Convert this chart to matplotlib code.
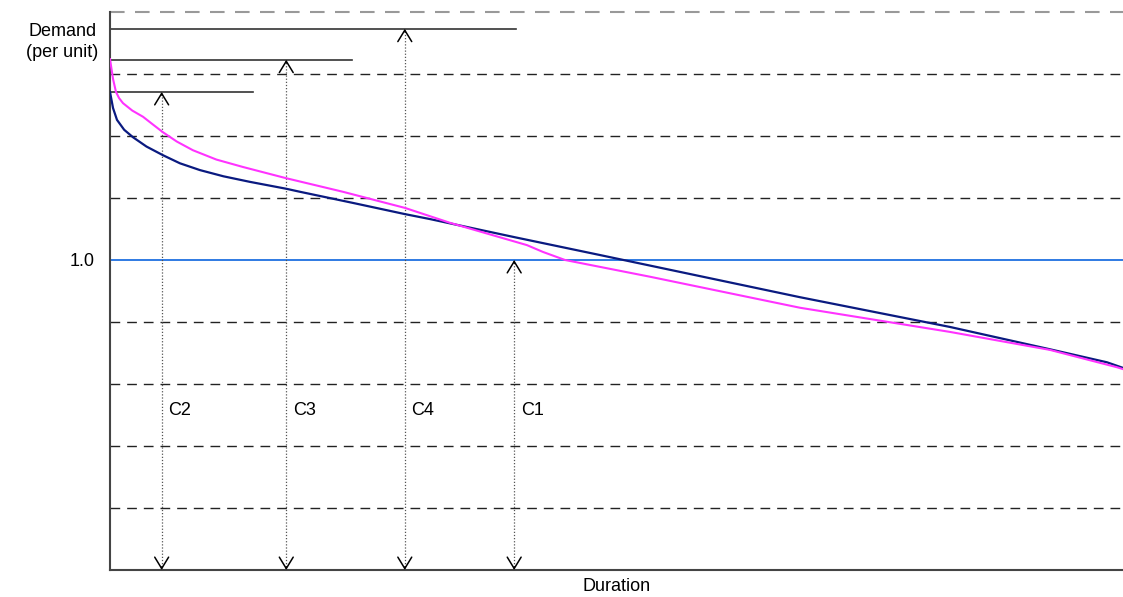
#!/usr/bin/env python3
"""
Load duration curves vs capacity levels C1..C4 (per unit demand).
"""
import matplotlib
matplotlib.use('Agg')
import matplotlib.pyplot as plt

plt.rcParams['font.family'] = ['Liberation Sans', 'DejaVu Sans']

# duration in % of period, demand in per unit
navy_dur = [0, 0.3, 0.69, 1.4, 2.27, 3.6, 5.23, 6.9, 8.88, 11.2, 13.82, 17.37, 18.76,
            24.0, 29.12, 31.59, 39.88, 48.37, 58.24, 68.11, 82.92, 92.79, 98.42, 100]
navy_dem = [1.271, 1.245, 1.226, 1.210, 1.198, 1.183, 1.169, 1.156, 1.145, 1.135, 1.126,
            1.115, 1.110, 1.092, 1.074, 1.066, 1.037, 1.008, 0.974, 0.940, 0.892, 0.856,
            0.835, 0.826]

magenta_dur = [0, 0.3, 0.59, 0.9, 1.28, 2.2, 3.26, 4.2, 5.23, 6.6, 8.19, 10.5, 13.13,
               17.37, 23.0, 29.12, 33.56, 41.16, 42.74, 44.92, 53.31, 68.11, 82.92, 92.79,
               99.41, 100]
magenta_dem = [1.324, 1.292, 1.271, 1.261, 1.253, 1.241, 1.231, 1.219, 1.206, 1.191, 1.177,
               1.162, 1.150, 1.132, 1.110, 1.084, 1.060, 1.024, 1.013, 1.000, 0.973, 0.923,
               0.884, 0.855, 0.827, 0.824]

cap_labels = ['C2', 'C3', 'C4', 'C1']
cap_levels = [1.271, 1.323, 1.373, 1.0]
cap_line_end = [14.1, 23.9, 40.1, None]   # C1 is the full-width 1.0 line
cap_arrow_x = [5.1, 17.4, 29.1, 39.9]
label_y = 0.757

grid_levels = [0.6, 0.7, 0.8, 0.9, 1.1, 1.2, 1.3]
top_level = 1.4

fig = plt.figure(figsize=(11.23, 5.97), dpi=100)
ax = fig.add_axes([110 / 1123, 27 / 597, 1013 / 1123, 558 / 597])
ax.set_xlim(0, 100)
ax.set_ylim(0.5, 1.4)

for g in grid_levels:
    ax.axhline(g, color='#222222', linestyle=(0, (7, 5)), linewidth=1, zorder=1)
ax.axhline(top_level, color='#999999', linestyle=(0, (7, 5)), linewidth=1.5, zorder=1, clip_on=False)
ax.axhline(1.0, color='#1f6fe0', linewidth=1.3, zorder=2)

ax.plot(magenta_dur, magenta_dem, color='#ff33ff', linewidth=1.5, zorder=4)
ax.plot(navy_dur, navy_dem, color='#0a1a80', linewidth=1.6, zorder=3)

for lab, lev, end, xa in zip(cap_labels, cap_levels, cap_line_end, cap_arrow_x):
    if end is not None:
        ax.plot([0, end], [lev, lev], color='#333333', linewidth=1.2, zorder=2)
    ax.plot([xa, xa], [0.5, lev], color='#555555', linestyle=(0, (1, 1.5)),
            linewidth=0.9, zorder=2)
    for tip, d in ((lev, -0.005), (0.5, 0.005)):
        ax.annotate('', xy=(xa, tip), xytext=(xa, tip + d),
                    arrowprops=dict(arrowstyle='->,head_length=0.82,head_width=0.5',
                                    color='black', linewidth=1.1, shrinkA=0, shrinkB=0),
                    annotation_clip=False)
    ax.text(xa + 0.65, label_y, lab, fontsize=13, ha='left', va='center')

for side in ('top', 'right'):
    ax.spines[side].set_visible(False)
for side in ('left', 'bottom'):
    ax.spines[side].set_color('#444444')
    ax.spines[side].set_linewidth(1.5)

ax.set_xticks([])
ax.set_yticks([1.0])
ax.set_yticklabels(['1.0'], fontsize=13)
ax.tick_params(axis='y', length=0, pad=11)

ax.set_xlabel('Duration', fontsize=13, labelpad=6)
ax.set_ylabel('Demand\n(per unit)', fontsize=13, rotation=0, ha='center', va='center',
              linespacing=1.35)
ax.yaxis.set_label_coords(-0.047, 0.946)

plt.savefig('out.png', dpi=100)
plt.close()
